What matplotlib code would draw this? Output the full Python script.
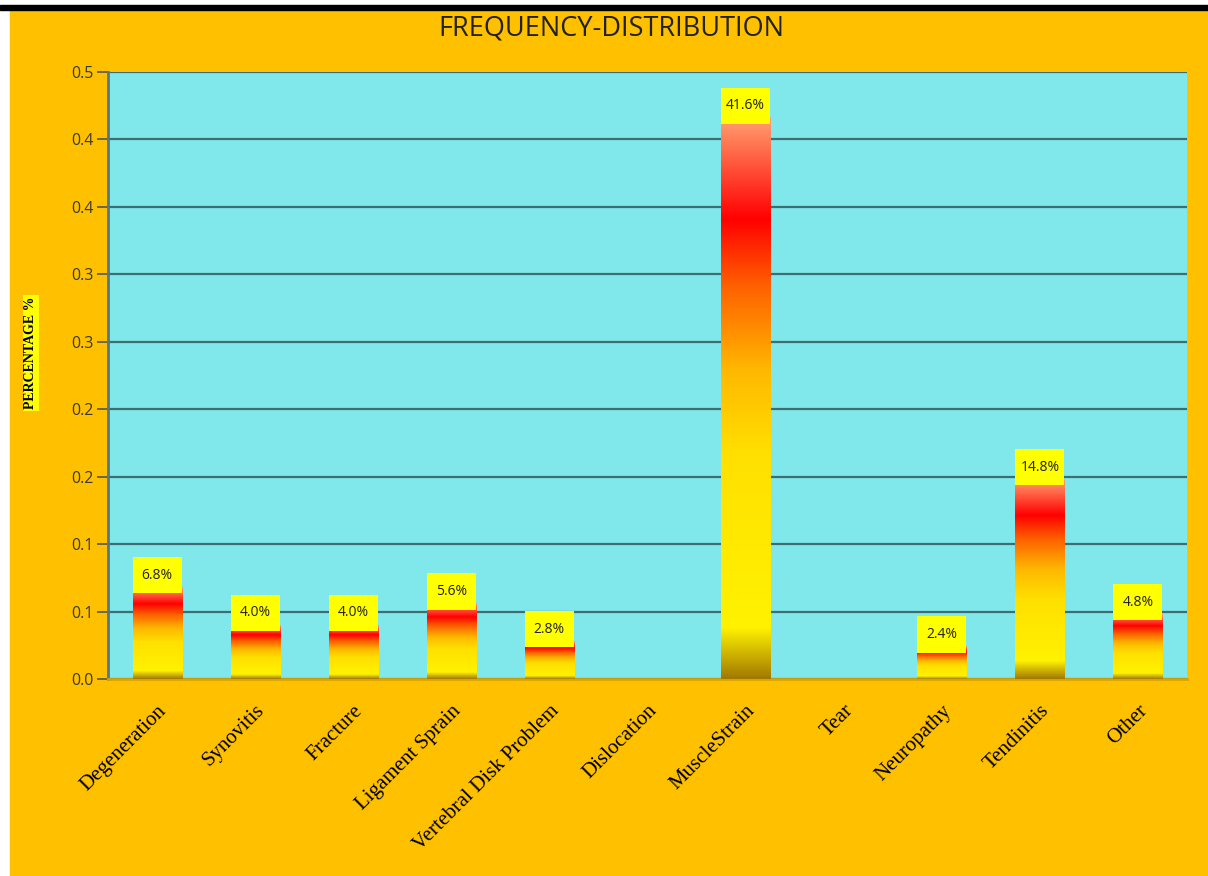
import numpy as np
import matplotlib
matplotlib.use("Agg")
import matplotlib.pyplot as plt
from matplotlib.colors import LinearSegmentedColormap
from matplotlib.patches import Rectangle

# data
categories = ["Degeneration", "Synovitis", "Fracture", "Ligament Sprain",
              "Vertebral Disk Problem", "Dislocation", "MuscleStrain", "Tear",
              "Neuropathy", "Tendinitis", "Other"]
percent = [6.8, 4.0, 4.0, 5.6, 2.8, 0.0, 41.6, 0.0, 2.4, 14.8, 4.8]
ytick_values = [0.0, 0.05, 0.10, 0.15, 0.20, 0.25, 0.30, 0.35, 0.40, 0.45]
ytick_labels = ["0.0", "0.1", "0.1", "0.2", "0.2", "0.3", "0.3", "0.4", "0.4", "0.5"]

ORANGE = "#FFC000"
CYAN = "#80E8EA"
GRID = "#3E6D72"

cmap = LinearSegmentedColormap.from_list("bar", [
    (0.00, "#A27A00"), (0.09, "#FFF200"), (0.40, "#FFE000"),
    (0.55, "#FFB800"), (0.70, "#FF6000"), (0.82, "#FF0000"),
    (1.00, "#FFA070")])

fig = plt.figure(figsize=(12.08, 8.76), dpi=100, facecolor="white")

# orange chart frame with black rule at top
fig.patches.append(Rectangle((10 / 1208, 0), 1198 / 1208, 866 / 876,
                             transform=fig.transFigure, color=ORANGE, zorder=-5))
fig.patches.append(Rectangle((0, 866 / 876), 1, 5 / 876,
                             transform=fig.transFigure, color="black", zorder=-4))

ax = fig.add_axes([108 / 1208, 197 / 876, 1079 / 1208, 607 / 876])
ax.set_zorder(2)
ax.set_facecolor(CYAN)

x = np.arange(len(categories))
vals = np.array(percent) / 100
bw = 0.5
grad = np.linspace(0, 1, 256).reshape(-1, 1)

for i, v in zip(x, vals):
    if v <= 0:
        continue
    ax.imshow(grad, extent=[i - bw / 2, i + bw / 2, 0, v], aspect="auto",
              cmap=cmap, origin="lower", zorder=3, interpolation="bilinear")
    # yellow data label box
    ax.add_patch(Rectangle((i - bw / 2, v - 0.0045), bw, 0.027,
                           facecolor="#FFFF00", edgecolor="none", zorder=4))
    ax.text(i, v - 0.0045 + 0.0135, f"{v * 100:.1f}%", ha="center", va="center",
            fontsize=10, family="Open Sans", color="#222222", zorder=5)

ax.set_xlim(-0.5, len(categories) - 0.5)
ax.set_ylim(0, 0.45)

ax.set_yticks(ytick_values)
ax.set_yticklabels(ytick_labels, family="Open Sans", fontsize=11.5, color="#3a3a3a")
ax.tick_params(axis="y", length=8, width=1.2, color="#555555", pad=2)
ax.yaxis.grid(True, color=GRID, linewidth=1.6)
ax.set_axisbelow(True)

ax.set_xticks(x)
ax.set_xticklabels(categories, rotation=45, ha="right", va="top",
                   rotation_mode="anchor", family="Liberation Serif", fontsize=15)
ax.tick_params(axis="x", length=0, pad=16)

for s in ["top", "right"]:
    ax.spines[s].set_visible(False)
ax.spines["left"].set_color("#55777A")
ax.spines["left"].set_linewidth(2)
ax.spines["bottom"].set_color("#D9A400")
ax.spines["bottom"].set_linewidth(2)

fig.text(611 / 1208, 848 / 876, "FREQUENCY-DISTRIBUTION", ha="center", va="center",
         fontsize=19.5, family="Open Sans", color="#222222")

fig.text(31 / 1208, 523 / 876, "PERCENTAGE %", rotation=90, ha="center", va="center",
         fontsize=10, fontweight="bold", family="Liberation Serif",
         bbox=dict(facecolor="#FFFF00", edgecolor="none", pad=1))

fig.savefig("out.png", dpi=100, facecolor=fig.get_facecolor())
